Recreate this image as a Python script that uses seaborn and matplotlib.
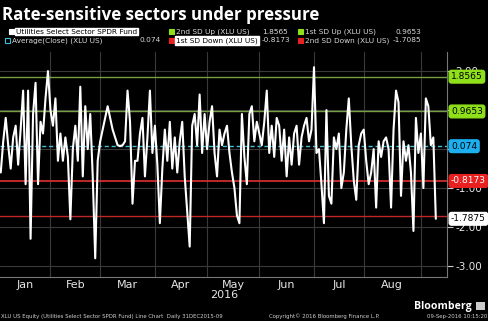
import numpy as np
import pandas as pd
import matplotlib
matplotlib.use("Agg")
import matplotlib.pyplot as plt
import matplotlib.transforms as mtransforms
import seaborn as sns

# ---------------- data ----------------
values = [
    -0.6, 0.2, 0.8, 0.1, -0.5, 0.3, 0.6, -0.4, 0.5, 1.5,
    -0.9, 1.5, -2.3, 0.9, 1.7, -0.9, 0.7, 0.4, 1.3, 2.0,
    1.0, 0.6, 1.3, -0.3, 0.4, -0.3, 0.3, -0.2, -1.8, 0.0,
    0.6, -0.3, 1.6, -0.7, 1.1, 0.0, 0.9, -0.7, -2.8, -0.3,
    0.2, 0.5, 0.8, 1.1, 0.8, 0.5, 0.3, 0.1, 0.08, 0.1,
    0.2, 1.5, 0.7, -1.4, -0.3, -0.3, 0.4, 0.8, -0.7, 0.3,
    1.5, -0.1, 0.6, -0.4, -1.9, -0.5, 0.5, -0.3, 0.7, -0.5,
    0.3, -0.6, 0.2, 0.7, -0.7, -1.6, -2.5, 0.6, 0.9, 0.1,
    1.4, -0.1, 0.9, 0.0, 0.7, 1.1, -0.1, -0.7, 0.5, 0.1,
    0.4, 0.6, -0.1, -0.6, -1.0, -1.7, -1.9, 0.9, -0.2, -0.9,
    0.9, 1.1, 0.2, 0.7, 0.4, 0.1, 0.7, 1.5, -0.1, 0.6,
    -0.2, 0.8, 0.6, -0.3, 0.5, -0.7, 0.3, -0.4, 0.4, 0.6,
    -0.4, 0.3, 0.6, 0.8, 0.2, 0.5, 2.1, -0.1, 0.0, -0.9,
    -1.9, 1.0, -1.2, -1.4, 0.3, 0.0, 0.4, -1.0, -0.6, 0.5,
    1.3, 0.1, -0.8, -1.3, 0.1, 0.4, 0.5, -0.3, -0.9, -0.6,
    0.0, -1.5, 0.2, -0.2, 0.2, 0.3, 0.0, -1.5, 0.5, 1.5,
    1.2, -1.2, 0.2, -0.3, 0.1, -0.6, -2.1, 0.8, -0.1, 0.4,
    -1.0, 1.3, 1.1, 0.1, 0.3, -1.7875,
]
months = ["Jan", "Feb", "Mar", "Apr", "May", "Jun", "Jul", "Aug"]
month_days = [20, 20, 22, 21, 21, 22, 20, 23]
year_label = "2016"
sd2_up = 1.8565
sd1_up = 0.9653
average = 0.074
sd1_down = -0.8173
sd2_down = -1.7085
last_value = values[-1]
yticks = [2.0, 1.0, 0.0, -1.0, -2.0, -3.0]
hidden_yticks = [1.0, 0.0]   # fully covered by value tags in the original

title = "Rate-sensitive sectors under pressure"
series_name = "Utilities Select Sector SPDR Fund"
footer_left = "XLU US Equity (Utilities Select Sector SPDR Fund) Line Chart  Daily 31DEC2015-09"
footer_mid = "Copyright\u00a9 2016 Bloomberg Finance L.P."
footer_right = "09-Sep-2016 10:15:20"

# ---------------- style ----------------
sns.set_style("dark", rc={
    "axes.facecolor": "black",
    "figure.facecolor": "black",
    "axes.edgecolor": "#777777",
    "grid.color": "#333333",
    "text.color": "white",
    "xtick.color": "#dddddd",
    "ytick.color": "#dddddd",
})
plt.rcParams["font.family"] = ["DejaVu Sans"]
plt.rcParams["axes.unicode_minus"] = False

W, H = 488, 321
fig = plt.figure(figsize=(W / 100, H / 100), dpi=100)
ax = fig.add_axes([0, (H - 277) / H, 447 / W, 225 / H])

df = pd.DataFrame({"day": np.arange(len(values)), "value": values})

# gridlines
bounds = np.concatenate([[0], np.cumsum(month_days)])
for b in bounds[1:]:
    ax.axvline(b, color="#3a3a3a", lw=0.8, zorder=0)
for t in yticks:
    ax.axhline(t, color="#3a3a3a", lw=0.8, zorder=0)

# reference lines
ax.axhline(sd2_up, color="#76a040", lw=1.0, zorder=1)
ax.axhline(sd1_up, color="#76a040", lw=1.0, zorder=1)
ax.axhline(average, color="#3fbfd8", lw=1.0, ls=(0, (3, 2)), zorder=1)
ax.axhline(sd1_down, color="#e03030", lw=1.2, zorder=1)
ax.axhline(sd2_down, color="#c02828", lw=1.0, zorder=1)

sns.lineplot(data=df, x="day", y="value", ax=ax, color="white", lw=1.5, zorder=3)

ax.set_xlim(-0.3, 179.5)
ax.set_ylim(-3.28, 2.49)
ax.grid(False)
ax.set_xlabel("")
ax.set_ylabel("")
for s in ["top", "left"]:
    ax.spines[s].set_visible(False)
ax.spines["bottom"].set_color("#777777")
ax.spines["right"].set_color("#777777")

# x ticks: month boundaries (marks) and month names (centered)
ax.set_xticks(bounds[1:])
ax.set_xticklabels([])
ax.tick_params(axis="x", length=3, color="#888888")
ax.set_xticks([(bounds[i] + bounds[i + 1]) / 2 for i in range(len(months))], minor=True)
ax.set_xticklabels(months, minor=True, fontsize=8, color="#e6e6e6")
ax.tick_params(axis="x", which="minor", length=0, pad=2)

# y ticks on the right
ax.yaxis.tick_right()
ax.set_yticks(yticks)
ax.set_yticklabels(["" if t in hidden_yticks else f"{t:.2f}" for t in yticks],
                   fontsize=7.5, color="#e6e6e6")
ax.tick_params(axis="y", length=4, color="#cccccc", pad=2)

# right-edge value tags
tr = mtransforms.blended_transform_factory(ax.transAxes, ax.transData)
tags = [
    (sd2_up, f"{sd2_up:.4f}", "#8fe01a", "black"),
    (sd1_up, f"{sd1_up:.4f}", "#8fe01a", "black"),
    (average, f"{average:.3f}", "#1cb0f0", "black"),
    (sd1_down, f"{sd1_down:.4f}", "#e82020", "white"),
    (last_value, f"{last_value:.4f}", "white", "black"),
]
for v, lab, fc, tc in tags:
    ax.text(1.009, v, lab, transform=tr, ha="left", va="center", fontsize=6.6,
            color=tc, clip_on=False, zorder=10,
            bbox=dict(boxstyle="round,pad=0.2,rounding_size=0.25", fc=fc, ec=fc))

# ---------------- texts ----------------
fig.text(2 / W, 1 - 15 / H, title, fontsize=12.2, fontweight="bold", color="white",
         family=["Open Sans", "DejaVu Sans"], va="center", ha="left")

lf = 5.3
lc = "#d8d8d8"
y1 = 1 - 31.5 / H
y2 = 1 - 40.5 / H
def sq(x, y, c, fill=True):
    fig.patches.append(plt.Rectangle((x / W, y - 2.5 / H), 5 / W, 5 / H,
                                     transform=fig.transFigure, fc=c if fill else "none",
                                     ec=c, lw=0.8))
sq(9, y1, "white")
fig.text(16 / W, y1, series_name, fontsize=lf, color="black", va="center",
         bbox=dict(boxstyle="square,pad=0.12", fc="white", ec="white"))
sq(5, y2, "#3fbfd8", fill=False)
fig.text(12 / W, y2, "Average(Close) (XLU US)", fontsize=lf, color=lc, va="center")
fig.text(161 / W, y2, f"{average:.3f}", fontsize=lf, color=lc, va="center", ha="right")

sq(169, y1, "#8fe01a")
fig.text(176 / W, y1, "2nd SD Up (XLU US)", fontsize=lf, color=lc, va="center")
fig.text(288 / W, y1, f"{sd2_up:.4f}", fontsize=lf, color=lc, va="center", ha="right")
sq(169, y2, "#e82020")
fig.text(176 / W, y2, "1st SD Down (XLU US)", fontsize=lf, color="black", va="center",
         bbox=dict(boxstyle="square,pad=0.12", fc="white", ec="white"))
fig.text(290 / W, y2, f"{sd1_down:.4f}", fontsize=lf, color=lc, va="center", ha="right")

sq(298, y1, "#8fe01a")
fig.text(305 / W, y1, "1st SD Up (XLU US)", fontsize=lf, color=lc, va="center")
fig.text(421 / W, y1, f"{sd1_up:.4f}", fontsize=lf, color=lc, va="center", ha="right")
sq(298, y2, "#e82020")
fig.text(305 / W, y2, "2nd SD Down (XLU US)", fontsize=lf, color=lc, va="center")
fig.text(421 / W, y2, f"{sd2_down:.4f}", fontsize=lf, color=lc, va="center", ha="right")

fig.text(224 / W, 1 - 295 / H, year_label, fontsize=8, color="#e6e6e6", ha="center", va="center")
fig.text(472 / W, 1 - 306 / H, "Bloomberg", fontsize=7.6, fontweight="bold", color="white",
         ha="right", va="center", family=["Open Sans", "DejaVu Sans"])
fig.patches.append(plt.Rectangle((476 / W, 1 - 310 / H), 9 / W, 8 / H,
                                 transform=fig.transFigure, fc="#cccccc", ec="none"))
fig.text(1 / W, 1 - 316.5 / H, footer_left, fontsize=3.9, color="#cfcfcf", va="center")
fig.text(269 / W, 1 - 316.5 / H, footer_mid, fontsize=3.9, color="#cfcfcf", va="center")
fig.text(487 / W, 1 - 316.5 / H, footer_right, fontsize=3.9, color="#cfcfcf", va="center", ha="right")

fig.savefig("out.png", dpi=100, facecolor="black")
